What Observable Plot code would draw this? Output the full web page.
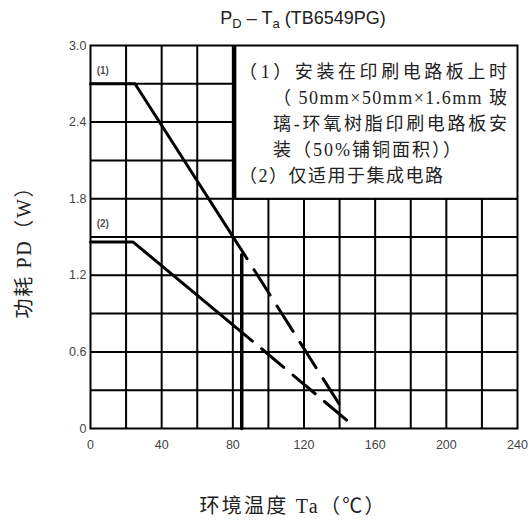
<!DOCTYPE html>
<html>
<head>
<meta charset="utf-8">
<script src="https://cdn.jsdelivr.net/npm/d3@7"></script>
<script src="https://cdn.jsdelivr.net/npm/@observablehq/plot@0.6"></script>
<style>
  html, body { margin: 0; padding: 0; background: #fff; }
  #chart svg { display: block; }
</style>
</head>
<body>
<div id="chart"></div>
<script>
// ---- data ----
const xTicks = [0, 40, 80, 120, 160, 200, 240];
const yTicks = [0, 0.6, 1.2, 1.8, 2.4, 3.0];
const xGrid = [20, 40, 60, 80, 100, 120, 140, 160, 180, 200, 220];
const yGrid = [0.3, 0.6, 0.9, 1.2, 1.5, 1.8, 2.1, 2.4, 2.7];

const curve1Solid  = [{t: 0, p: 2.7}, {t: 25, p: 2.7}, {t: 88, p: 1.33}];
const curve1Dashed = [{t: 88, p: 1.33}, {t: 143, p: 0.12}];
const curve2Solid  = [{t: 0, p: 1.46}, {t: 24, p: 1.46}, {t: 91, p: 0.685}];
const curve2Dashed = [{t: 91, p: 0.685}, {t: 147, p: 0.03}];
const limitLine    = [{t: 85, p: 0}, {t: 85, p: 1.36}];

const curveLabels = [{t: 3.5, p: 2.8, label: "(1)"}, {t: 3.5, p: 1.6, label: "(2)"}];
const noteBox = [{t1: 81, t2: 240, p1: 1.8, p2: 3.0}];
const noteLines = [
  "（1）安装在印刷电路板上时",
  "（ 50mm×50mm×1.6mm 玻",
  "璃-环氧树脂印刷电路板安",
  "装（50%铺铜面积））",
  "（2）仅适用于集成电路"
];
const noteIndent = [false, true, true, true, false];

const titleParts = ["P", "D", " – T", "a", " (TB6549PG)"];
const xLabel = "环境温度 Ta（℃）";
const yLabel = "功耗 PD（W）";

// ---- layout ----
const W = 532, H = 529;
const mL = 90, mR = 15, mT = 45, mB = 101;
const serif = "'Liberation Serif', 'Times New Roman', 'Noto Sans CJK SC', serif";
const sans = "'Liberation Sans', Arial, Helvetica, sans-serif";

const chart = Plot.plot({
  width: W, height: H,
  marginLeft: mL, marginRight: mR, marginTop: mT, marginBottom: mB,
  x: {domain: [0, 240]},
  y: {domain: [0, 3]},
  style: {fontFamily: sans, fontSize: "12px", color: "#444", background: "#fff"},
  marks: [
    Plot.ruleX(xGrid, {stroke: "#000", strokeWidth: 2}),
    Plot.ruleY(yGrid, {stroke: "#000", strokeWidth: 2}),
    Plot.rect(noteBox, {x1: "t1", x2: "t2", y1: "p1", y2: "p2", fill: "#fff"}),
    Plot.ruleX(noteBox, {x: "t1", y1: "p1", y2: "p2", stroke: "#000", strokeWidth: 3.5}),
    Plot.ruleY(noteBox, {y: "p1", x1: "t1", x2: "t2", stroke: "#000", strokeWidth: 2}),
    Plot.line(curve1Solid, {x: "t", y: "p", stroke: "#000", strokeWidth: 3}),
    Plot.line(curve1Dashed, {x: "t", y: "p", stroke: "#000", strokeWidth: 3, strokeDasharray: "30,13", strokeDashoffset: 30}),
    Plot.line(curve2Solid, {x: "t", y: "p", stroke: "#000", strokeWidth: 3}),
    Plot.line(curve2Dashed, {x: "t", y: "p", stroke: "#000", strokeWidth: 3, strokeDasharray: "29,12", strokeDashoffset: 29}),
    Plot.line(limitLine, {x: "t", y: "p", stroke: "#000", strokeWidth: 3.5}),
    Plot.text(curveLabels, {x: "t", y: "p", text: "label", textAnchor: "start", fill: "#555", fontSize: 10, fontWeight: "bold"}),
    Plot.frame({stroke: "#000", strokeWidth: 2}),
    Plot.axisX(xTicks, {tickSize: 0, tickPadding: 12, fill: "#444", fontSize: 12.5, tickFormat: d => String(d)}),
    Plot.axisY(yTicks, {tickSize: 0, tickPadding: 4, fill: "#444", fontSize: 12.5, tickFormat: d => d === 0 ? "0" : d.toFixed(1)})
  ]
});

document.getElementById("chart").appendChild(chart);

// ---- texts added onto the same SVG ----
const svg = d3.select(chart);
const xs = chart.scale("x");

// title with subscripts
const title = svg.append("text")
  .attr("x", 303).attr("y", 24)
  .attr("text-anchor", "middle")
  .attr("font-family", sans).attr("font-size", 18).attr("fill", "#222");
titleParts.forEach((s, i) => {
  const sub = i === 1 || i === 3;
  title.append("tspan").text(s)
    .attr("font-size", sub ? 13 : 18)
    .attr("dy", sub ? 4 : (i === 0 ? 0 : -4));
});

// note lines inside the box
const boxLeft = xs.apply(noteBox[0].t1);
const boxRight = xs.apply(noteBox[0].t2);
const noteRight = [boxRight - 10, boxRight - 10, boxRight - 10, boxLeft + 227, boxLeft + 209];
noteLines.forEach((s, i) => {
  const x0 = noteIndent[i] ? boxLeft + 39 : boxLeft + 5;
  svg.append("text")
    .attr("x", x0).attr("y", 78 + i * 26)
    .attr("text-anchor", "start")
    .attr("font-family", serif).attr("font-size", 18).attr("fill", "#222")
    .attr("textLength", noteRight[i] - x0).attr("lengthAdjust", "spacing")
    .text(s);
});

// axis labels
svg.append("text")
  .attr("x", 292).attr("y", 513)
  .attr("text-anchor", "middle")
  .attr("font-family", serif).attr("font-size", 20).attr("fill", "#222")
  .attr("textLength", 185).attr("lengthAdjust", "spacing")
  .text(xLabel);
svg.append("text")
  .attr("transform", `translate(31, 248) rotate(-90)`)
  .attr("text-anchor", "middle")
  .attr("font-family", serif).attr("font-size", 20).attr("fill", "#222")
  .attr("textLength", 141).attr("lengthAdjust", "spacing")
  .text(yLabel);
</script>
</body>
</html>
